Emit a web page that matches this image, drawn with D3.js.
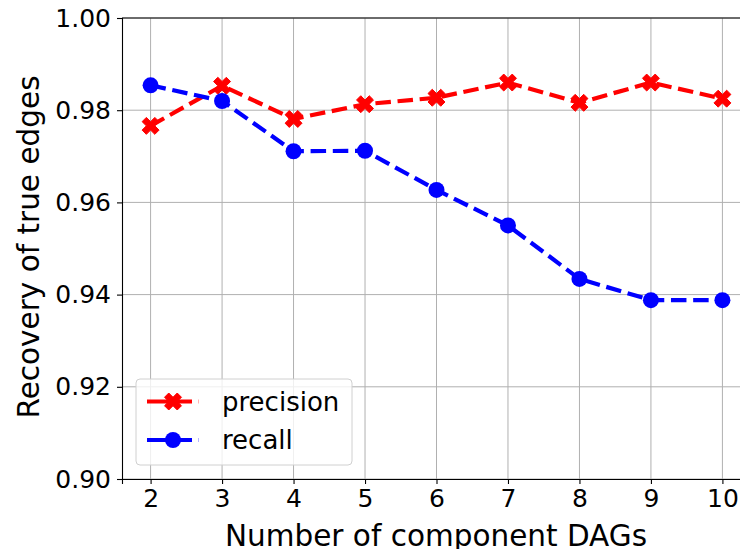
<!DOCTYPE html>
<html>
<head>
<meta charset="utf-8">
<script src="https://cdn.jsdelivr.net/npm/d3@7"></script>
<style>
  html, body { margin: 0; padding: 0; background: #fff; }
  svg { display: block; font-family: "DejaVu Sans", sans-serif; }
</style>
</head>
<body>
<div id="chart"></div>
<script>
const dags = [2, 3, 4, 5, 6, 7, 8, 9, 10];
const precision = [0.9766, 0.9853, 0.9781, 0.9813, 0.9827, 0.9860, 0.9816, 0.9860, 0.9825];
const recall = [0.9854, 0.9820, 0.9711, 0.9712, 0.9627, 0.9550, 0.9434, 0.9388, 0.9388];
const yTicks = [0.90, 0.92, 0.94, 0.96, 0.98, 1.00];
const seriesNames = ['precision', 'recall'];

const W = 740, H = 549;
const margin = { top: 18, right: -11, bottom: 70, left: 122 };
const width = W - margin.left - margin.right;
const height = H - margin.top - margin.bottom;

const svg = d3.select('#chart').append('svg')
  .attr('width', W)
  .attr('height', H);

const g = svg.append('g')
  .attr('transform', `translate(${margin.left},${margin.top})`);

const x = d3.scaleLinear().domain([1.6, 10.4]).range([0, width]);
const y = d3.scaleLinear().domain([0.90, 1.00]).range([height, 0]);

// grid
g.append('g')
  .selectAll('line')
  .data(dags)
  .enter().append('line')
  .attr('x1', d => x(d)).attr('x2', d => x(d))
  .attr('y1', 0).attr('y2', height)
  .attr('stroke', '#b0b0b0').attr('stroke-width', 1);

g.append('g')
  .selectAll('line')
  .data(yTicks)
  .enter().append('line')
  .attr('x1', 0).attr('x2', width)
  .attr('y1', d => y(d)).attr('y2', d => y(d))
  .attr('stroke', '#b0b0b0').attr('stroke-width', 1);

// axes
const xAxis = g.append('g')
  .attr('transform', `translate(0,${height})`)
  .call(d3.axisBottom(x).tickValues(dags).tickFormat(d3.format('d')).tickSize(5).tickPadding(5));
const yAxis = g.append('g')
  .call(d3.axisLeft(y).tickValues(yTicks).tickFormat(d3.format('.2f')).tickSize(5).tickPadding(6));

[xAxis, yAxis].forEach(a => {
  a.select('.domain').attr('stroke', '#000').attr('stroke-width', 1.1);
  a.selectAll('.tick line').attr('stroke', '#000').attr('stroke-width', 1.1);
  a.selectAll('.tick text')
    .style('font-size', '25px')
    .style('font-family', '"DejaVu Sans", sans-serif')
    .attr('fill', '#000');
});

// top + right spines
g.append('line').attr('x1', 0).attr('x2', width).attr('y1', 0).attr('y2', 0)
  .attr('stroke', '#000').attr('stroke-width', 1.1);
g.append('line').attr('x1', width).attr('x2', width).attr('y1', 0).attr('y2', height)
  .attr('stroke', '#000').attr('stroke-width', 1.1);

// axis titles
svg.append('text')
  .attr('x', 436)
  .attr('y', 546)
  .attr('text-anchor', 'middle')
  .style('font-size', '29.5px')
  .text('Number of component DAGs');

svg.append('text')
  .attr('transform', 'translate(38.5,247) rotate(-90)')
  .attr('text-anchor', 'middle')
  .style('font-size', '29.5px')
  .text('Recovery of true edges');

// markers
function xMarker(s) {
  // filled X: plus shape rotated 45deg
  const a = s / 2, t = s / 6;
  const pts = [[-t, -a], [t, -a], [t, -t], [a, -t], [a, t], [t, t], [t, a], [-t, a], [-t, t], [-a, t], [-a, -t], [-t, -t]];
  const c = Math.SQRT1_2;
  return 'M' + pts.map(p => [(p[0] - p[1]) * c, (p[0] + p[1]) * c].join(',')).join('L') + 'Z';
}

const line = d3.line().x(d => x(d[0])).y(d => y(d[1]));
const series = [
  { name: seriesNames[0], values: precision, color: '#ff0000', marker: 'x' },
  { name: seriesNames[1], values: recall, color: '#0000ff', marker: 'o' }
];

series.forEach(s => {
  const pts = dags.map((d, i) => [d, s.values[i]]);
  g.append('path')
    .datum(pts)
    .attr('d', line)
    .attr('fill', 'none')
    .attr('stroke', s.color)
    .attr('stroke-width', 4.2)
    .attr('stroke-dasharray', '15.5,6.7');
  const m = g.append('g').selectAll('.m').data(pts).enter();
  if (s.marker === 'o') {
    m.append('circle')
      .attr('cx', d => x(d[0])).attr('cy', d => y(d[1]))
      .attr('r', 8)
      .attr('fill', s.color);
  } else {
    m.append('path')
      .attr('transform', d => `translate(${x(d[0])},${y(d[1])})`)
      .attr('d', xMarker(18))
      .attr('fill', s.color)
      .attr('stroke', s.color).attr('stroke-width', 1);
  }
});

// legend
const leg = svg.append('g').attr('transform', 'translate(136,379)');
leg.append('rect')
  .attr('width', 216).attr('height', 86)
  .attr('rx', 4)
  .attr('fill', 'rgba(255,255,255,0.8)')
  .attr('stroke', '#d0d0d0').attr('stroke-width', 1);

series.forEach((s, i) => {
  const cy = 22.5 + i * 38.5;
  leg.append('line')
    .attr('x1', 11).attr('x2', 63).attr('y1', cy).attr('y2', cy)
    .attr('stroke', s.color).attr('stroke-width', 4.2)
    .attr('stroke-dasharray', '45,6.7');
  if (s.marker === 'o') {
    leg.append('circle').attr('cx', 37).attr('cy', cy).attr('r', 8).attr('fill', s.color);
  } else {
    leg.append('path').attr('transform', `translate(37,${cy})`)
      .attr('d', xMarker(18)).attr('fill', s.color)
      .attr('stroke', s.color).attr('stroke-width', 1);
  }
  leg.append('text')
    .attr('x', 86).attr('y', cy)
    .attr('dy', '0.35em')
    .style('font-size', '26px')
    .text(s.name);
});
</script>
</body>
</html>
